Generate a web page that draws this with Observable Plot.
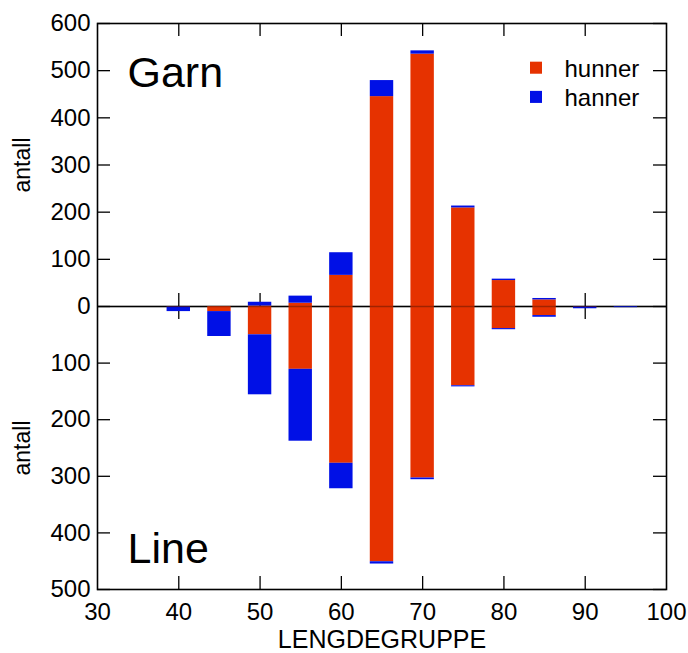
<!DOCTYPE html>
<html><head><meta charset="utf-8">
<script src="https://cdn.jsdelivr.net/npm/d3@7"></script>
<script src="https://cdn.jsdelivr.net/npm/@observablehq/plot@0.6"></script>
<style>body{margin:0;background:#fff} svg{display:block}</style>
</head><body><div id="chart"></div>
<script>
// Length groups (LENGDEGRUPPE)
const lengths    = [40, 45, 50, 55, 60, 65, 70, 75, 80, 85, 90, 95];
// Garn (upper half)
const garnHunner = [0, 0, 1, 7, 66, 445, 535, 209, 55, 14, 0, 0];
const garnHanner = [0, 0, 8, 15, 48, 34, 7, 4, 3, 3, 0, 0];
// Line (lower half)
const lineHunner = [1, 9, 50, 111, 277, 451, 303, 140, 39, 16, 1, 0];
const lineHanner = [8, 44, 106, 127, 45, 4, 3, 2, 2, 3, 3, 2];

const sexes = ["hunner", "hanner"];
const sexColors = ["#e63200", "#0010e6"];
const xTicks = [30, 40, 50, 60, 70, 80, 90, 100];
const xInnerTicks = [40, 50, 60, 70, 80, 90];
const yTicks = [-500, -400, -300, -200, -100, 0, 100, 200, 300, 400, 500, 600];
const panels = [{name: "Garn", max: 600}, {name: "Line", max: -500}];

const W = 688, H = 653, mL = 97, mR = 22, mT = 23, mB = 64;
const zeroPx = 306, tickLen = 13, halfBar = 1.44;
const plotW = W - mL - mR, plotH = H - mT - mB;
const font = "'Liberation Sans', Arial, Helvetica, sans-serif";

const rows = [];
lengths.forEach((x, i) => {
  const a = garnHunner[i], b = garnHanner[i], c = lineHunner[i], d = lineHanner[i];
  rows.push({x, sex: "hunner", y1: 0, y2: a});
  rows.push({x, sex: "hanner", y1: a, y2: a + b});
  rows.push({x, sex: "hunner", y1: 0, y2: -c});
  rows.push({x, sex: "hanner", y1: -c, y2: -(c + d)});
});
const bars = rows.filter(r => r.y1 !== r.y2);

const legendMarks = [];
sexes.forEach((s, i) => {
  legendMarks.push(Plot.dot([s], {frameAnchor: "top-left", dx: 535.5 - mL, dy: 67.2 - mT + i * 29.2,
    symbol: "square", r: 6.8, fill: sexColors[i], stroke: null}));
  legendMarks.push(Plot.text([s], {frameAnchor: "top-left", dx: 564 - mL, dy: 69 - mT + i * 28.5,
    text: d => d, textAnchor: "start", lineAnchor: "middle", fontSize: 24, fill: "black"}));
});

const chart = Plot.plot({
  width: W, height: H,
  marginLeft: mL, marginRight: mR, marginTop: mT, marginBottom: mB,
  style: {fontFamily: font, background: "white", color: "black"},
  x: {type: "linear", domain: [30, 100]},
  y: {type: "linear", domain: [-500, 0, 600], range: [H - mB, zeroPx, mT]},
  color: {domain: sexes, range: sexColors},
  marks: [
    // inward ticks
    Plot.tickY(yTicks, {y: d => d, insetRight: plotW - tickLen, stroke: "black", strokeWidth: 1.3}),
    Plot.tickY(yTicks, {y: d => d, insetLeft: plotW - tickLen, stroke: "black", strokeWidth: 1.3}),
    Plot.tickX(xInnerTicks, {x: d => d, insetBottom: plotH - tickLen, stroke: "black", strokeWidth: 1.3}),
    Plot.tickX(xInnerTicks, {x: d => d, insetTop: plotH - tickLen, stroke: "black", strokeWidth: 1.3}),
    Plot.tickX(xInnerTicks, {x: d => d, insetTop: (zeroPx - mT) - tickLen, insetBottom: (H - mB - zeroPx) - tickLen, stroke: "black", strokeWidth: 1.3}),
    Plot.ruleY([0], {stroke: "black", strokeWidth: 1.6}),
    // bars
    Plot.rect(bars, {x1: d => d.x - halfBar, x2: d => d.x + halfBar, y1: "y1", y2: "y2", fill: "sex"}),
    Plot.ruleY([0], {stroke: "black", strokeWidth: 1.6, strokeOpacity: 0.3}),
    Plot.frame({stroke: "black", strokeWidth: 1.6}),
    // axes
    Plot.axisY(yTicks, {anchor: "left", tickSize: 0, tickPadding: 7, tickFormat: d => Math.abs(d), fontSize: 24}),
    Plot.axisX(xTicks, {anchor: "bottom", tickSize: 0, tickPadding: 13, fontSize: 24}),
    Plot.text(["LENGDEGRUPPE"], {frameAnchor: "bottom", dy: 41, lineAnchor: "top", fontSize: 25, fill: "black"}),
    Plot.text(panels, {y: d => d.max / 2, frameAnchor: "left", dx: 22.5 - mL, rotate: -90,
      text: () => "antall", textAnchor: "middle", lineAnchor: "middle", fontSize: 23, fill: "black"}),
    Plot.text([panels[0].name], {frameAnchor: "top-left", dx: 30, dy: 33, textAnchor: "start", lineAnchor: "top", fontSize: 43, fill: "black"}),
    Plot.text([panels[1].name], {frameAnchor: "bottom-left", dx: 30, dy: -57, textAnchor: "start", lineAnchor: "top", fontSize: 43, fill: "black"}),
    ...legendMarks
  ]
});
document.getElementById("chart").appendChild(chart);
</script>
</body></html>
